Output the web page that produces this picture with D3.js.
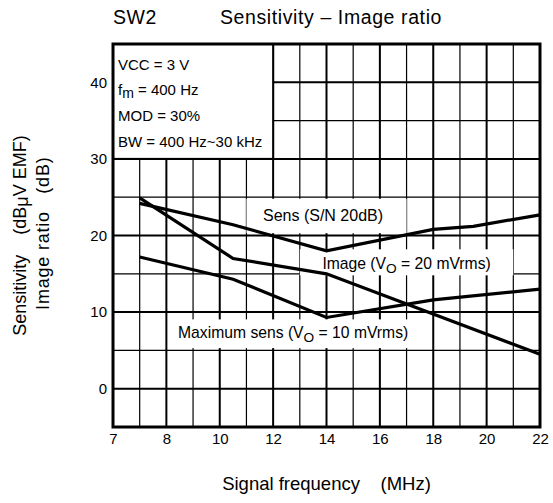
<!DOCTYPE html>
<html>
<head>
<meta charset="utf-8">
<script src="https://cdn.jsdelivr.net/npm/d3@7"></script>
<style>
  body { margin: 0; background: #fff; }
  svg { display: block; font-family: "Liberation Sans", Arial, sans-serif; }
  text { white-space: pre; }
</style>
</head>
<body>
<div id="chart"></div>
<script>
// x axis ticks are evenly spaced even though the values are not
var xTicks = [7, 8, 10, 12, 14, 16, 18, 20, 22];
var xMinor = [7.5, 9, 11, 13, 15, 17, 19, 21];
var yMajor = [0, 10, 20, 30, 40];
var yMinor = [5, 15, 25, 35];

var sensFreq = [7.5, 10.5, 14, 18, 19.5, 22];
var sensVal  = [24.2, 21.4, 18.0, 20.8, 21.2, 22.7];

var imageFreq = [7.5, 10.5, 14, 22];
var imageVal  = [24.9, 17.0, 15.0, 4.5];

var maxFreq = [7.5, 10.5, 14, 18, 22];
var maxVal  = [17.2, 14.3, 9.3, 11.6, 13.0];

var conditions = ["VCC = 3 V", "f|m| = 400 Hz", "MOD = 30%", "BW = 400 Hz~30 kHz"];

var margin = {top: 44, right: 13, bottom: 76, left: 113},
    width = 553 - margin.left - margin.right,
    height = 503 - margin.top - margin.bottom;

var svg = d3.select("#chart").append("svg")
    .attr("width", 553)
    .attr("height", 503);

var g = svg.append("g")
    .attr("transform", "translate(" + margin.left + "," + margin.top + ")");

var x = d3.scaleLinear()
    .domain(xTicks)
    .range(xTicks.map(function(d, i) { return i * width / (xTicks.length - 1); }));

var y = d3.scaleLinear()
    .domain([-5, 45])
    .range([height, 0]);

//********** GRID ************
g.selectAll(".vminor").data(xMinor).enter().append("line")
    .attr("x1", function(d) { return x(d); }).attr("x2", function(d) { return x(d); })
    .attr("y1", 0).attr("y2", height)
    .attr("stroke", "#000").attr("stroke-width", 1.2);

g.selectAll(".vmajor").data(xTicks.slice(1, -1)).enter().append("line")
    .attr("x1", function(d) { return x(d); }).attr("x2", function(d) { return x(d); })
    .attr("y1", 0).attr("y2", height)
    .attr("stroke", "#000").attr("stroke-width", 2);

g.selectAll(".hminor").data(yMinor).enter().append("line")
    .attr("x1", 0).attr("x2", width)
    .attr("y1", function(d) { return y(d); }).attr("y2", function(d) { return y(d); })
    .attr("stroke", "#000").attr("stroke-width", 1.2);

g.selectAll(".hmajor").data(yMajor).enter().append("line")
    .attr("x1", 0).attr("x2", width)
    .attr("y1", function(d) { return y(d); }).attr("y2", function(d) { return y(d); })
    .attr("stroke", "#000").attr("stroke-width", 2);

// conditions box in the upper left
g.append("rect")
    .attr("x", x(7)).attr("y", y(45))
    .attr("width", x(12) - x(7)).attr("height", y(30) - y(45))
    .attr("fill", "#fff").attr("stroke", "#000").attr("stroke-width", 2);

// white boxes behind the curve labels
var labelBoxes = [
    {x0: 11, x1: 17, y0: 20.3, y1: 24.8},
    {x0: 13, x1: 21, y0: 14.8, y1: 18.2},
    {x0: 8.2, x1: 17.2, y0: 5.3, y1: 9.05}
];
g.selectAll(".lbox").data(labelBoxes).enter().append("rect")
    .attr("x", function(d) { return x(d.x0); })
    .attr("y", function(d) { return y(d.y1); })
    .attr("width", function(d) { return x(d.x1) - x(d.x0); })
    .attr("height", function(d) { return y(d.y0) - y(d.y1); })
    .attr("fill", "#fff");

//********** CURVES ************
var line = d3.line()
    .x(function(d) { return x(d[0]); })
    .y(function(d) { return y(d[1]); });

var series = [
    d3.zip(sensFreq, sensVal),
    d3.zip(imageFreq, imageVal),
    d3.zip(maxFreq, maxVal)
];

g.selectAll(".curve").data(series).enter().append("path")
    .attr("d", line)
    .attr("fill", "none")
    .attr("stroke", "#000")
    .attr("stroke-width", 3.2)
    .attr("stroke-linejoin", "miter");

// frame
g.append("rect")
    .attr("width", width).attr("height", height)
    .attr("fill", "none").attr("stroke", "#000").attr("stroke-width", 3);

//********** LABELS ************
function subText(sel, parts, size, shift) {
    // parts: [normal, sub, normal]
    sel.append("tspan").text(parts[0]);
    sel.append("tspan").attr("dy", shift).style("font-size", (size - 2) + "px").text(parts[1]);
    sel.append("tspan").attr("dy", -shift).text(parts[2]);
}

var cond = g.selectAll(".cond").data(conditions).enter().append("text")
    .attr("x", 5)
    .attr("y", function(d, i) { return 25.5 + i * 25.8; })
    .style("font-size", "15px");
cond.each(function(d) {
    var p = d.split("|");
    if (p.length === 3) subText(d3.select(this), p, 16, 3);
    else d3.select(this).text(d);
});

g.append("text")
    .attr("x", x(13.87)).attr("y", y(21.9))
    .attr("text-anchor", "middle")
    .style("font-size", "16px")
    .text("Sens (S/N 20dB)");

var imageLabel = g.append("text")
    .attr("x", x(17)).attr("y", y(15.65))
    .attr("text-anchor", "middle")
    .style("font-size", "15.7px");
subText(imageLabel, ["Image (V", "O", " = 20 mVrms)"], 15.7, 4);

var maxLabel = g.append("text")
    .attr("x", x(12.75)).attr("y", y(6.6))
    .attr("text-anchor", "middle")
    .style("font-size", "15.7px");
subText(maxLabel, ["Maximum sens (V", "O", " = 10 mVrms)"], 15.7, 4);

//********** AXES ************
var xAxis = d3.axisBottom(x).tickValues(xTicks).tickSize(0).tickPadding(6);
var yAxis = d3.axisLeft(y).tickValues(yMajor).tickSize(0).tickPadding(6);

g.append("g")
    .attr("transform", "translate(0," + height + ")")
    .call(xAxis)
    .call(function(a) { a.select(".domain").remove(); })
    .selectAll("text")
    .style("font-family", "Liberation Sans, Arial, sans-serif")
    .style("font-size", "15px")
    .attr("fill", "#000");

g.append("g")
    .call(yAxis)
    .call(function(a) { a.select(".domain").remove(); })
    .selectAll("text")
    .style("font-family", "Liberation Sans, Arial, sans-serif")
    .style("font-size", "15px")
    .attr("fill", "#000");

svg.append("text")
    .attr("x", 113).attr("y", 24)
    .style("font-size", "19.5px")
    .style("letter-spacing", "0.6px")
    .text("SW2");

svg.append("text")
    .attr("x", 220).attr("y", 24)
    .style("font-size", "19.5px")
    .style("letter-spacing", "0.6px")
    .text("Sensitivity \u2013 Image ratio");

svg.append("text")
    .attr("x", margin.left + x(14)).attr("y", 490)
    .attr("text-anchor", "middle")
    .style("font-size", "18.5px")
    .text("Signal frequency    (MHz)");

var yl1 = svg.append("text")
    .attr("transform", "translate(25.5," + (margin.top + y(20)) + ") rotate(-90)")
    .attr("text-anchor", "middle")
    .style("font-size", "18px");
yl1.append("tspan").text("Sensitivity    (dB");
yl1.append("tspan").attr("dy", 2).text("\u03bc");
yl1.append("tspan").attr("dy", -2).text("V EMF)");

svg.append("text")
    .attr("transform", "translate(48.5," + (margin.top + y(20.3)) + ") rotate(-90)")
    .attr("text-anchor", "middle")
    .style("font-size", "18px")
    .style("letter-spacing", "0.8px")
    .text("Image ratio   (dB)");
</script>
</body>
</html>
